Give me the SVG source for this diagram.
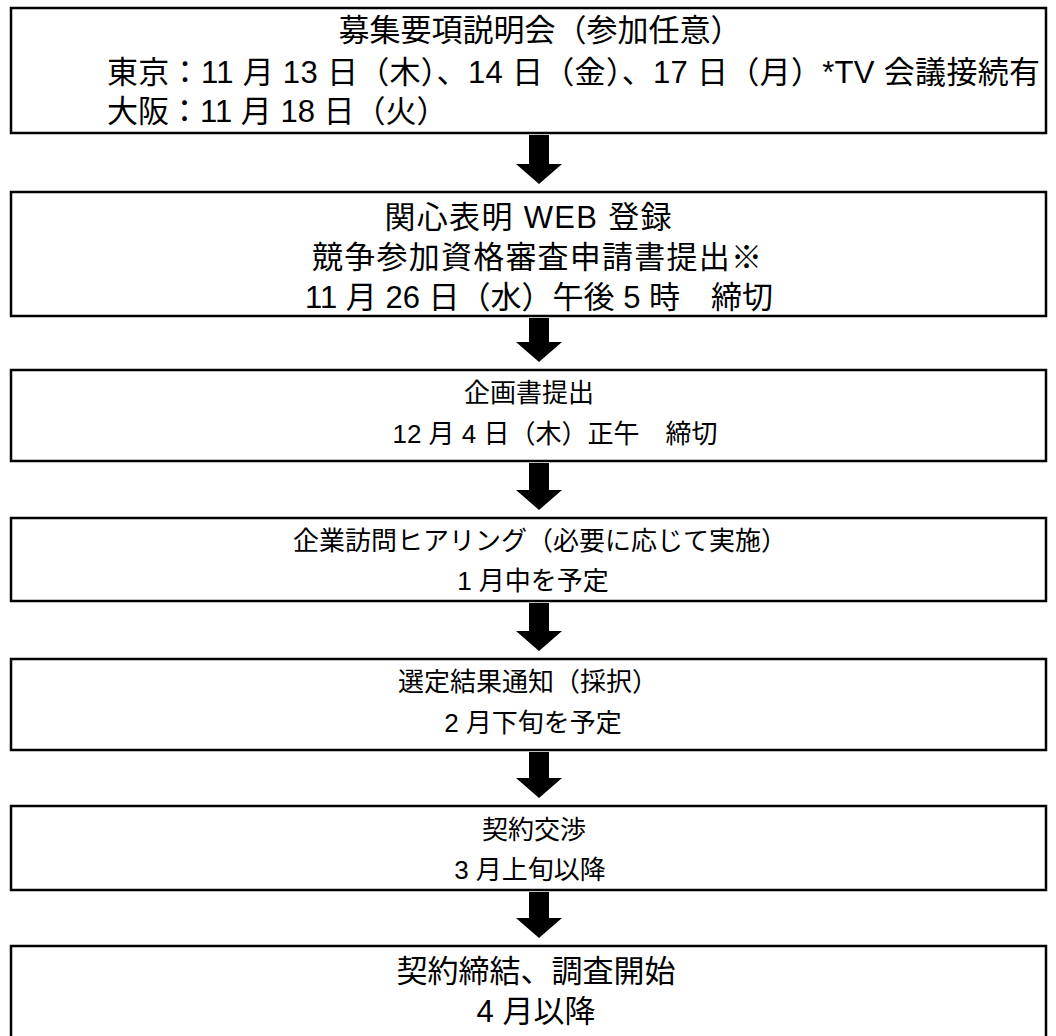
<svg xmlns="http://www.w3.org/2000/svg" width="1056" height="1036" viewBox="0 0 1056 1036">
<style>
.box{fill:#fff;stroke:#000;stroke-width:2.5}
.t{font-family:"Liberation Sans","Noto Sans CJK JP",sans-serif;font-size:31px;fill:#000}
.s{font-size:26px}
.c{text-anchor:middle}
.arrow{fill:#000}
</style>
<rect width="1056" height="1036" fill="#fff"/>
<g id="n1">
<rect class="box" x="11" y="8" width="1035" height="125"/>
<text class="t c" x="540" y="41">募集要項説明会（参加任意）</text>
<text class="t" x="107" y="83" textLength="933" lengthAdjust="spacing">東京：11 月 13 日（木）、14 日（金）、17 日（月）*TV 会議接続有</text>
<text class="t" x="107" y="122">大阪：11 月 18 日（火）</text>
</g>
<g id="n2">
<rect class="box" x="11" y="192" width="1035" height="124"/>
<text class="t c" x="528" y="228" textLength="287" lengthAdjust="spacing">関心表明 WEB 登録</text>
<text class="t c" x="537" y="268" textLength="450" lengthAdjust="spacing">競争参加資格審査申請書提出※</text>
<text class="t c" x="539" y="308">11 月 26 日（水）午後 5 時　締切</text>
</g>
<g id="n3">
<rect class="box" x="11" y="370" width="1035" height="91"/>
<text class="t s c" x="529" y="402">企画書提出</text>
<text class="t s c" x="555" y="443">12 月 4 日（木）正午　締切</text>
</g>
<g id="n4">
<rect class="box" x="11" y="518" width="1035" height="83"/>
<text class="t s c" x="540" y="550">企業訪問ヒアリング（必要に応じて実施）</text>
<text class="t s c" x="533" y="590">1 月中を予定</text>
</g>
<g id="n5">
<rect class="box" x="11" y="659" width="1035" height="91"/>
<text class="t s c" x="528" y="691">選定結果通知（採択）</text>
<text class="t s c" x="533" y="732">2 月下旬を予定</text>
</g>
<g id="n6">
<rect class="box" x="11" y="806" width="1035" height="84"/>
<text class="t s c" x="534" y="839">契約交渉</text>
<text class="t s c" x="530" y="879">3 月上旬以降</text>
</g>
<g id="n7">
<rect class="box" x="11" y="946" width="1035" height="100"/>
<text class="t c" x="536" y="982">契約締結、調査開始</text>
<text class="t c" x="536" y="1022">4 月以降</text>
</g>
<g id="connectors">
<path class="arrow" d="M529,135 H549 V164 H562 L539,184 L516,164 H529 Z"/>
<path class="arrow" d="M529,318 H549 V342 H562 L539,362 L516,342 H529 Z"/>
<path class="arrow" d="M529,463 H549 V490 H562 L539,510 L516,490 H529 Z"/>
<path class="arrow" d="M529,603 H549 V631 H562 L539,651 L516,631 H529 Z"/>
<path class="arrow" d="M529,752 H549 V778 H562 L539,798 L516,778 H529 Z"/>
<path class="arrow" d="M529,892 H549 V918 H562 L539,938 L516,918 H529 Z"/>
</g>
</svg>
